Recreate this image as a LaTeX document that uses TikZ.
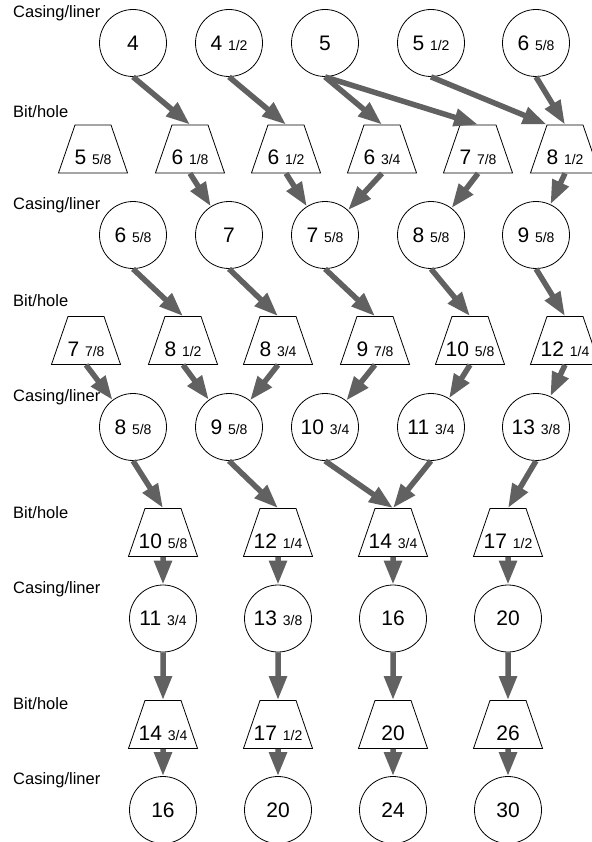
\documentclass[tikz,border=0pt]{standalone}
\usepackage{xcolor}
\usepackage{fontspec}
\setmainfont{Liberation Sans}
\usepackage{tikz}
\usetikzlibrary{shapes.geometric, arrows.meta, positioning}
\newcommand{\fracpart}[1]{{\fontsize{14}{14}\selectfont #1}}

\begin{document}
\begin{tikzpicture}
  [
    x=1pt, y=-1pt,
    Casing/.style={circle, draw=black, line width=0.8pt, minimum size=67pt, inner sep=0pt, font=\fontsize{21}{21}\selectfont},
    Bit/.style={trapezium, trapezium angle=71, draw=black, line width=0.8pt, inner xsep=0pt, inner ysep=8.5pt,
      text height=31pt, text depth=0pt, font=\fontsize{21}{21}\selectfont,
      execute at begin node={\hbox to 36pt\bgroup\hss}, execute at end node={\hss\egroup}},
    Flow/.style={draw=black!62, line width=5.5pt, -{Triangle[length=24pt, width=17pt]}},
    Level/.style={anchor=west, inner sep=0pt, font=\fontsize{16.5}{16.5}\selectfont}
  ]
  \useasboundingbox (0, 0) rectangle (591, 842);
  % Labels
  \node[Level] (l1) at(13, 13) {Casing/liner};
  \node[Level] (l2) at(13, 112) {Bit/hole};
  \node[Level] (l3) at(13, 205) {Casing/liner};
  \node[Level] (l4) at(13, 301) {Bit/hole};
  \node[Level] (l5) at(13, 397) {Casing/liner};
  \node[Level] (l6) at(13, 513) {Bit/hole};
  \node[Level] (l7) at(13, 589) {Casing/liner};
  \node[Level] (l8) at(13, 704) {Bit/hole};
  \node[Level] (l9) at(13, 780) {Casing/liner};
  % Nodes
  \node[Casing] (c1a) at(133, 43) {4};
  \node[Casing] (c1b) at(229, 43) {4 \fracpart{1/2}};
  \node[Casing] (c1c) at(325, 43) {5};
  \node[Casing] (c1d) at(431, 43) {5 \fracpart{1/2}};
  \node[Casing] (c1e) at(536, 43) {6 \fracpart{5/8}};
  \node[Bit] (b1a) at(93, 149) {5 \fracpart{5/8}};
  \node[Bit] (b1b) at(190, 149) {6 \fracpart{1/8}};
  \node[Bit] (b1c) at(286, 149) {6 \fracpart{1/2}};
  \node[Bit] (b1d) at(382, 149) {6 \fracpart{3/4}};
  \node[Bit] (b1e) at(478, 149) {7 \fracpart{7/8}};
  \node[Bit] (b1f) at(565, 149) {8 \fracpart{1/2}};
  \node[Casing] (c2a) at(133, 235) {6 \fracpart{5/8}};
  \node[Casing] (c2b) at(229, 235) {7};
  \node[Casing] (c2c) at(325, 235) {7 \fracpart{5/8}};
  \node[Casing] (c2d) at(431, 235) {8 \fracpart{5/8}};
  \node[Casing] (c2e) at(536, 235) {9 \fracpart{5/8}};
  \node[Bit] (b2a) at(86, 340.5) {7 \fracpart{7/8}};
  \node[Bit] (b2b) at(183, 340.5) {8 \fracpart{1/2}};
  \node[Bit] (b2c) at(278, 340.5) {8 \fracpart{3/4}};
  \node[Bit] (b2d) at(375, 340.5) {9 \fracpart{7/8}};
  \node[Bit] (b2e) at(470, 340.5) {10 \fracpart{5/8}};
  \node[Bit] (b2f) at(565, 340.5) {12 \fracpart{1/4}};
  \node[Casing] (c3a) at(133, 427) {8 \fracpart{5/8}};
  \node[Casing] (c3b) at(229, 427) {9 \fracpart{5/8}};
  \node[Casing] (c3c) at(325, 427) {10 \fracpart{3/4}};
  \node[Casing] (c3d) at(431, 427) {11 \fracpart{3/4}};
  \node[Casing] (c3e) at(536, 427) {13 \fracpart{3/8}};
  \node[Bit] (b3a) at(163, 532.5) {10 \fracpart{5/8}};
  \node[Bit] (b3b) at(278, 532.5) {12 \fracpart{1/4}};
  \node[Bit] (b3c) at(393, 532.5) {14 \fracpart{3/4}};
  \node[Bit] (b3d) at(508, 532.5) {17 \fracpart{1/2}};
  \node[Casing] (c4a) at(163, 618.5) {11 \fracpart{3/4}};
  \node[Casing] (c4b) at(278, 618.5) {13 \fracpart{3/8}};
  \node[Casing] (c4c) at(393, 618.5) {16};
  \node[Casing] (c4d) at(508, 618.5) {20};
  \node[Bit] (b4a) at(163, 724.5) {14 \fracpart{3/4}};
  \node[Bit] (b4b) at(278, 724.5) {17 \fracpart{1/2}};
  \node[Bit] (b4c) at(393, 724.5) {20};
  \node[Bit] (b4d) at(508, 724.5) {26};
  \node[Casing] (c5a) at(163, 810) {16};
  \node[Casing] (c5b) at(278, 810) {20};
  \node[Casing] (c5c) at(393, 810) {24};
  \node[Casing] (c5d) at(508, 810) {30};
  % Lines
  \path [Flow] (c1a.south) -- (b1b.north);
  \path [Flow] (c1b.south) -- (b1c.north);
  \path [Flow] (c1c.south) -- (b1d.north);
  \path [Flow] (c1c.south) -- (b1e.north);
  \path [Flow] (c1d.south) -- (b1f.top left corner);
  \path [Flow] (c1e.south) -- (b1f.north);
  \path [Flow] (b1b.south) -- (c2b);
  \path [Flow] (b1c.south) -- (c2c);
  \path [Flow] (b1d.south) -- (c2c);
  \path [Flow] (b1e.south) -- (c2d);
  \path [Flow] (b1f.south) -- (c2e);
  \path [Flow] (c2a.south) -- (b2b.north);
  \path [Flow] (c2b.south) -- (b2c.north);
  \path [Flow] (c2c.south) -- (b2d.north);
  \path [Flow] (c2d.south) -- (b2e.north);
  \path [Flow] (c2e.south) -- (b2f.north);
  \path [Flow] (b2a.south) -- (c3a);
  \path [Flow] (b2b.south) -- (c3b);
  \path [Flow] (b2c.south) -- (c3b);
  \path [Flow] (b2d.south) -- (c3c);
  \path [Flow] (b2e.south) -- (c3d);
  \path [Flow] (b2f.south) -- (c3e);
  \path [Flow] (c3a.south) -- (b3a.north);
  \path [Flow] (c3b.south) -- (b3b.north);
  \path [Flow] (c3c.south) -- (b3c.north);
  \path [Flow] (c3d.south) -- (b3c.north);
  \path [Flow] (c3e.south) -- (b3d.north);
  \path [Flow] (b3a.south) -- (c4a);
  \path [Flow] (b3b.south) -- (c4b);
  \path [Flow] (b3c.south) -- (c4c);
  \path [Flow] (b3d.south) -- (c4d);
  \path [Flow] (c4a.south) -- (b4a.north);
  \path [Flow] (c4b.south) -- (b4b.north);
  \path [Flow] (c4c.south) -- (b4c.north);
  \path [Flow] (c4d.south) -- (b4d.north);
  \path [Flow] (b4a.south) -- (c5a);
  \path [Flow] (b4b.south) -- (c5b);
  \path [Flow] (b4c.south) -- (c5c);
  \path [Flow] (b4d.south) -- (c5d);
\end{tikzpicture}
\end{document}
